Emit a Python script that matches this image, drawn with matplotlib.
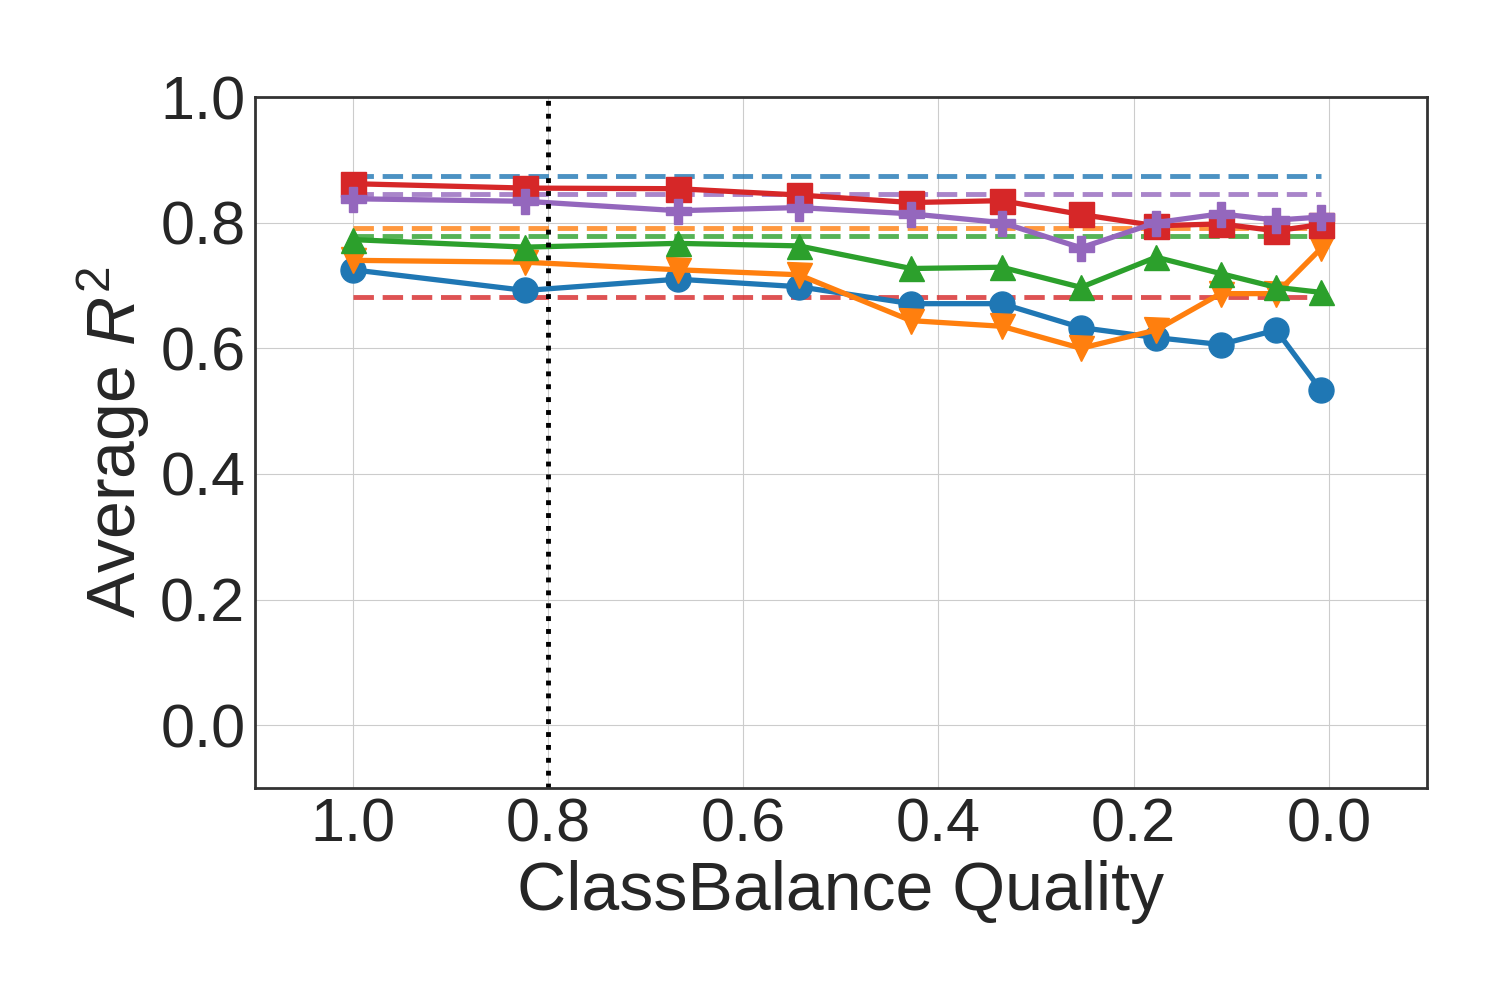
import matplotlib
matplotlib.use("Agg")
import matplotlib.pyplot as plt
import seaborn as sns

sns.set_style("whitegrid")
plt.rcParams['font.family'] = ['Liberation Sans', 'DejaVu Sans']
plt.rcParams['mathtext.fontset'] = 'custom'
plt.rcParams['mathtext.it'] = 'Liberation Sans:italic'
plt.rcParams['mathtext.rm'] = 'Liberation Sans'

# quality levels on the x axis
quality = [1.0, 0.823, 0.667, 0.543, 0.428, 0.335, 0.254, 0.177, 0.111, 0.054, 0.008]

# average R^2 per model
blue = [0.725, 0.692, 0.710, 0.698, 0.671, 0.671, 0.633, 0.617, 0.606, 0.629, 0.533]
orange = [0.740, 0.737, 0.725, 0.717, 0.644, 0.635, 0.600, 0.629, 0.687, 0.687, 0.759]
green = [0.773, 0.761, 0.767, 0.763, 0.727, 0.729, 0.697, 0.745, 0.719, 0.697, 0.689]
red = [0.862, 0.855, 0.854, 0.844, 0.832, 0.835, 0.813, 0.795, 0.798, 0.787, 0.797]
purple = [0.838, 0.834, 0.819, 0.824, 0.814, 0.800, 0.760, 0.800, 0.814, 0.804, 0.809]

# baselines (clean data)
baselines = {"tab:blue": 0.875, "tab:purple": 0.846, "tab:orange": 0.792,
             "tab:green": 0.779, "tab:red": 0.681}

series = [(blue, "tab:blue", "o"), (orange, "tab:orange", "v"),
          (green, "tab:green", "^"), (red, "tab:red", "s"),
          (purple, "tab:purple", "P")]

fig = plt.figure(figsize=(15, 10), dpi=100)
ax = fig.add_axes([0.17, 0.212, 0.781, 0.691])

for col, val in baselines.items():
    ax.plot([quality[0], quality[-1]], [val, val], color=col, linestyle="--",
            linewidth=3.5, alpha=0.8, dashes=(4.2, 1.8))

for vals, col, mk in series:
    ax.plot(quality, vals, color=col, marker=mk, markersize=18, linewidth=3.8)

ax.axvline(0.8, color="black", linestyle=":", linewidth=3.5)

ax.set_xlim(1.1, -0.1)
ax.set_ylim(-0.1, 1.0)
ax.set_xticks([1.0, 0.8, 0.6, 0.4, 0.2, 0.0])
ax.set_yticks([0.0, 0.2, 0.4, 0.6, 0.8, 1.0])
ax.tick_params(labelsize=44, colors="#262626")
ax.set_xlabel("ClassBalance Quality", fontsize=49, color="#262626", labelpad=4)
ax.set_ylabel("Average $R^2$", fontsize=49, color="#262626", labelpad=6)
for sp in ax.spines.values():
    sp.set_color("#333333")
    sp.set_linewidth(2)

fig.savefig("out.png", dpi=100)
